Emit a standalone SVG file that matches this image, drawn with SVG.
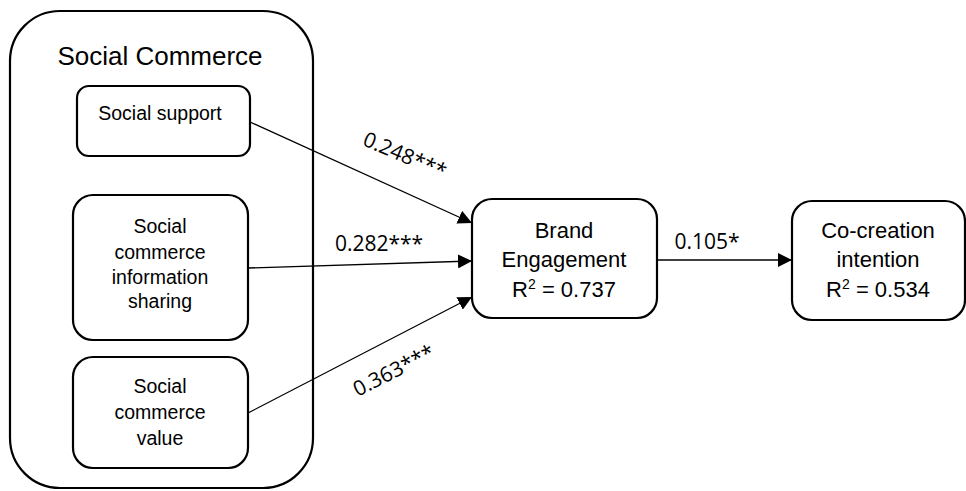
<svg xmlns="http://www.w3.org/2000/svg" width="966" height="491" viewBox="0 0 966 491">
<style>
.box{fill:#fff;stroke:#000;stroke-width:2.2}
.t{font-family:"Liberation Sans",Arial,sans-serif;fill:#000;text-anchor:middle}
.s{font-size:19.5px}
.b{font-size:22px}
.lbl{font-family:"Open Sans","Liberation Sans",sans-serif;font-size:21px;fill:#000;text-anchor:middle}
.c{stroke:#000;stroke-width:1.3;fill:none;marker-end:url(#ah)}
</style>
<defs>
<marker id="ah" markerUnits="userSpaceOnUse" markerWidth="14" markerHeight="14" viewBox="0 0 14 14" refX="14" refY="7" orient="auto">
<path d="M0,0 L14,7 L0,14 Z" fill="#000"/>
</marker>
</defs>
<rect width="966" height="491" fill="#fff"/>
<g id="social-commerce">
<rect class="box" x="10" y="11" width="303" height="477" rx="50"/>
<text class="t" x="160" y="65" style="font-size:26px">Social Commerce</text>
</g>
<g id="social-support">
<rect class="box" x="77" y="86" width="173" height="70" rx="12"/>
<text class="t s" x="160" y="120">Social support</text>
</g>
<g id="info-sharing">
<rect class="box" x="73" y="195" width="175" height="145" rx="20"/>
<text class="t s" x="160" y="233">Social</text>
<text class="t s" x="160" y="259">commerce</text>
<text class="t s" x="160" y="284">information</text>
<text class="t s" x="160" y="308">sharing</text>
</g>
<g id="sc-value">
<rect class="box" x="73" y="357" width="175" height="111" rx="20"/>
<text class="t s" x="160" y="393">Social</text>
<text class="t s" x="160" y="419">commerce</text>
<text class="t s" x="160" y="445">value</text>
</g>
<g id="brand-engagement">
<rect class="box" x="472" y="199" width="185" height="119" rx="20"/>
<text class="t b" x="564" y="238">Brand</text>
<text class="t b" x="564" y="267">Engagement</text>
<text class="t b" x="564" y="297">R<tspan font-size="14" dy="-8">2</tspan><tspan dy="8"> = 0.737</tspan></text>
</g>
<g id="co-creation">
<rect class="box" x="792" y="201" width="173" height="119" rx="20"/>
<text class="t b" x="878" y="238">Co-creation</text>
<text class="t b" x="878" y="267">intention</text>
<text class="t b" x="878" y="297">R<tspan font-size="14" dy="-8">2</tspan><tspan dy="8"> = 0.534</tspan></text>
</g>
<g id="connectors">
<line class="c" x1="250" y1="122" x2="472" y2="223"/>
<line class="c" x1="248" y1="268" x2="472" y2="261"/>
<line class="c" x1="248" y1="413" x2="472" y2="297"/>
<line class="c" x1="657" y1="260" x2="792" y2="260"/>
<text class="lbl" transform="translate(402,162) rotate(23)">0.248***</text>
<text class="lbl" x="379" y="251">0.282***</text>
<text class="lbl" transform="translate(397,377) rotate(-27)">0.363***</text>
<text class="lbl" x="707" y="249">0.105*</text>
</g>
</svg>
